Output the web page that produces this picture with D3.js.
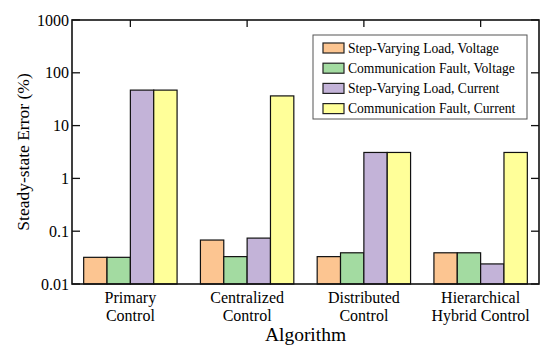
<!DOCTYPE html>
<html>
<head>
<meta charset="utf-8">
<script src="https://cdn.jsdelivr.net/npm/d3@7"></script>
<style>
  body { margin: 0; background: #fff; }
</style>
</head>
<body>
<svg id="chart"></svg>
<script>
const categories = [["Primary", "Control"], ["Centralized", "Control"], ["Distributed", "Control"], ["Hierarchical", "Hybrid Control"]];
const seriesNames = ["Step-Varying Load, Voltage", "Communication Fault, Voltage", "Step-Varying Load, Current", "Communication Fault, Current"];
const loadVoltage = [0.032, 0.068, 0.033, 0.039];
const faultVoltage = [0.032, 0.033, 0.039, 0.039];
const loadCurrent = [47, 0.074, 3.1, 0.024];
const faultCurrent = [47, 36.5, 3.1, 3.1];
const yTicks = [0.01, 0.1, 1, 10, 100, 1000];
const yTickLabels = ["0.01", "0.1", "1", "10", "100", "1000"];

const colors = ["#fcc591", "#a3dba1", "#c3b3d8", "#ffff99"];
const series = [loadVoltage, faultVoltage, loadCurrent, faultCurrent];
const FONT = "Liberation Serif";

const W = 550, H = 358;
const margin = { top: 20, right: 11, bottom: 74, left: 72 };
const width = W - margin.left - margin.right;
const height = H - margin.top - margin.bottom;

const svg = d3.select("#chart").attr("width", W).attr("height", H)
    .attr("font-family", FONT);
const g = svg.append("g").attr("transform", `translate(${margin.left},${margin.top})`);

const x0 = d3.scaleBand().domain(d3.range(categories.length)).range([0, width]).paddingInner(0.2).paddingOuter(0.1);
const x1 = d3.scaleBand().domain(d3.range(series.length)).range([0, x0.bandwidth()]);
const y = d3.scaleLog().domain([0.01, 1000]).range([height, 0]);

// bars
const groups = g.append("g").selectAll("g")
    .data(categories.map((c, i) => i))
    .join("g")
    .attr("transform", i => `translate(${x0(i)},0)`);

groups.selectAll("rect")
    .data(i => series.map((s, k) => ({ k, v: s[i] })))
    .join("rect")
    .attr("x", d => x1(d.k))
    .attr("y", d => y(d.v))
    .attr("width", x1.bandwidth())
    .attr("height", d => height - y(d.v))
    .attr("fill", d => colors[d.k])
    .attr("stroke", "#111")
    .attr("stroke-width", 1.2);

// frame
g.append("rect")
    .attr("width", width).attr("height", height)
    .attr("fill", "none").attr("stroke", "#111").attr("stroke-width", 1.6);

// y ticks (inward, both sides)
const yAxis = g.append("g");
yAxis.selectAll("line.l").data(yTicks).join("line")
    .attr("x1", 0).attr("x2", 8)
    .attr("y1", d => y(d)).attr("y2", d => y(d))
    .attr("stroke", "#111").attr("stroke-width", 1.3);
yAxis.selectAll("line.r").data(yTicks).join("line")
    .attr("x1", width).attr("x2", width - 8)
    .attr("y1", d => y(d)).attr("y2", d => y(d))
    .attr("stroke", "#111").attr("stroke-width", 1.3);
yAxis.selectAll("text").data(yTicks).join("text")
    .attr("x", -3).attr("y", d => y(d))
    .attr("dy", "0.35em")
    .attr("text-anchor", "end")
    .attr("font-size", 16)
    .text((d, i) => yTickLabels[i]);

// x ticks (inward, top)
const cx = i => x0(i) + x0.bandwidth() / 2;
g.append("g").selectAll("line").data(d3.range(categories.length)).join("line")
    .attr("x1", cx).attr("x2", cx)
    .attr("y1", 0).attr("y2", 7)
    .attr("stroke", "#111").attr("stroke-width", 1.3);

// category labels
const xl = g.append("g").selectAll("text").data(categories).join("text")
    .attr("text-anchor", "middle")
    .attr("font-size", 16)
    .attr("transform", (d, i) => `translate(${cx(i)},${height + 18.5})`);
xl.selectAll("tspan").data(d => d).join("tspan")
    .attr("x", 0)
    .attr("dy", (d, j) => j === 0 ? 0 : 18.5)
    .text(d => d);

// axis titles
svg.append("text")
    .attr("x", margin.left + width / 2).attr("y", 341)
    .attr("text-anchor", "middle")
    .attr("font-size", 19.5)
    .text("Algorithm");

svg.append("text")
    .attr("transform", `translate(29,${margin.top + height / 2}) rotate(-90)`)
    .attr("text-anchor", "middle")
    .attr("font-size", 17.5)
    .text("Steady-state Error (%)");

// legend
const lg = svg.append("g").attr("transform", "translate(313,35)");
lg.append("rect")
    .attr("width", 214).attr("height", 84)
    .attr("fill", "#fff").attr("stroke", "#555").attr("stroke-width", 1);
const items = lg.selectAll("g.item").data(seriesNames).join("g")
    .attr("transform", (d, i) => `translate(10,${13 + i * 20.2})`);
items.append("rect")
    .attr("x", 0).attr("y", -5)
    .attr("width", 21).attr("height", 10)
    .attr("fill", (d, i) => colors[i])
    .attr("stroke", "#222").attr("stroke-width", 1.2);
items.append("text")
    .attr("x", 25).attr("dy", "0.35em")
    .attr("font-size", 13.6)
    .text(d => d);
</script>
</body>
</html>
